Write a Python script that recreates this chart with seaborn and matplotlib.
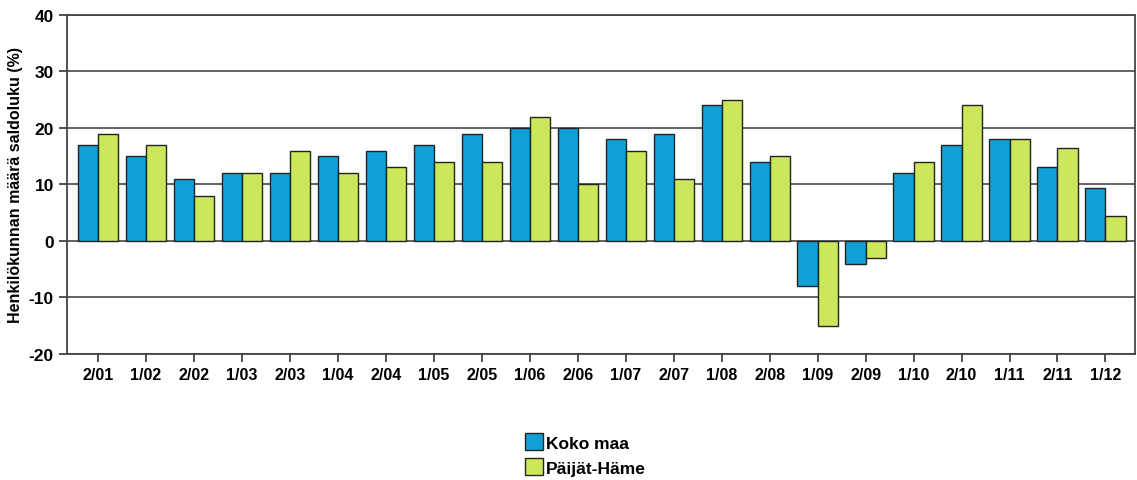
import pandas as pd
import numpy as np
import matplotlib.pyplot as plt
import seaborn as sns

periods = ['2/01', '1/02', '2/02', '1/03', '2/03', '1/04', '2/04', '1/05', '2/05', '1/06', '2/06',
           '1/07', '2/07', '1/08', '2/08', '1/09', '2/09', '1/10', '2/10', '1/11', '2/11', '1/12']
koko_maa = [17, 15, 11, 12, 12, 15, 16, 17, 19, 20, 20, 18, 19, 24, 14, -8, -4, 12, 17, 18, 13, 9.3]
paijat_hame = [19, 17, 8, 12, 16, 12, 13, 14, 14, 22, 10, 16, 11, 25, 15, -15, -3, 14, 24, 18, 16.5, 4.5]
series_names = ['Koko maa', 'Päijät-Häme']
yticks = [-20, -10, 0, 10, 20, 30, 40]

df = pd.DataFrame({
    'period': periods * 2,
    'value': koko_maa + paijat_hame,
    'series': [series_names[0]] * len(periods) + [series_names[1]] * len(periods),
})

sns.set_style('white')
plt.rcParams['font.family'] = ['Liberation Sans', 'DejaVu Sans']
plt.rcParams['font.weight'] = 'bold'
plt.rcParams['axes.unicode_minus'] = False
plt.rcParams['text.color'] = 'black'
plt.rcParams['axes.labelcolor'] = 'black'
plt.rcParams['xtick.color'] = 'black'
plt.rcParams['ytick.color'] = 'black'

fig = plt.figure(figsize=(11.37, 4.81), dpi=100)
ax = fig.add_axes([0.059, 0.262, 0.939, 0.705])

ax.set_axisbelow(True)
for y in yticks:
    ax.axhline(y, color='#555555', linewidth=1.3, zorder=0)

sns.barplot(data=df, x='period', y='value', hue='series', order=periods,
            palette=['#0FA0D8', '#CCE85A'], saturation=1, width=0.84, gap=0,
            edgecolor='#222222', linewidth=1, ax=ax, legend=True)

ax.set_ylim(-20, 40)
ax.set_xlim(-0.645, len(periods) - 1 + 0.61)
ax.set_yticks(yticks)
ax.set_xlabel('')
ax.set_ylabel('Henkilökunnan määrä saldoluku (%)', fontsize=11.5, fontweight='bold')
ax.tick_params(axis='x', labelsize=11.5)
ax.tick_params(axis='y', labelsize=12.5)
ax.tick_params(axis='both', which='both', direction='out', length=6, width=1.3,
               color='#444444', labelcolor='black', bottom=True, left=True)
for lab in ax.get_xticklabels() + ax.get_yticklabels():
    lab.set_fontweight('bold')
for sp in ax.spines.values():
    sp.set_color('#444444')
    sp.set_linewidth(1.3)

handles, labels = ax.get_legend_handles_labels()
ax.get_legend().remove()
fig.legend(handles, labels, loc='center', bbox_to_anchor=(0.515, 0.053), ncol=1,
           frameon=False, handlelength=1.0, handleheight=1.1,
           handletextpad=0.2, labelspacing=0.45, borderaxespad=0,
           prop={'weight': 'bold', 'size': 12.5})

fig.savefig('out.png', dpi=100)
